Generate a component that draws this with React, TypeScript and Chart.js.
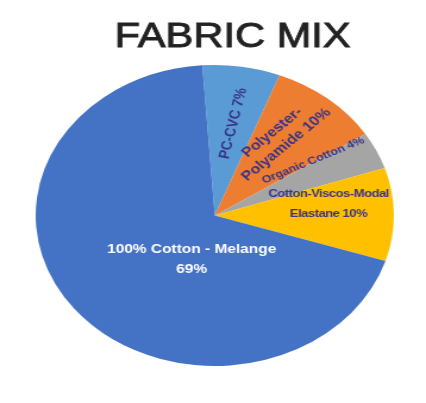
import { useEffect, useRef } from 'react';
import { Chart, registerables } from 'chart.js';

Chart.register(...registerables);

// ---- data ----
const TITLE = 'FABRIC MIX';
const categories = [
  'PC-CVC',
  'Polyester-Polyamide',
  'Organic Cotton',
  'Cotton-Viscos-Modal Elastane',
  '100% Cotton - Melange',
];
const shares = [7, 10, 4, 10, 69];
const categoryLines = [
  ['PC-CVC'],
  ['Polyester-', 'Polyamide'],
  ['Organic Cotton'],
  ['Cotton-Viscos-Modal', 'Elastane'],
  ['100% Cotton - Melange'],
];
const percentOnOwnLine = [false, false, false, false, true];

// ---- styles ----
const COLORS = ['#5B9BD5', '#ED7D31', '#A5A5A5', '#FFC000', '#4472C4'];
const DARK = '#3A3488';
const FONT = '"Liberation Sans", Arial, sans-serif';
const STRETCH = 426 / 358;

const LABEL_STYLE = [
  { shift: 1, r: 0.62, rot: -78, size: 13, lh: 15, color: DARK, ls: 0 },
  { shift: -4, r: 0.625, rot: -44, size: 13.5, lh: 17, color: DARK, ls: 0 },
  { shift: -8, r: 0.66, rot: -26, size: 10.5, lh: 12, color: DARK, ls: 0 },
  { shift: -6.7, r: 0.64, rot: 0, size: 11, lh: 20, color: DARK, ls: -0.45 },
  { shift: -28, r: 0.32, rot: 0, size: 13, lh: 20, color: '#FFFFFF', ls: 0 },
];

const labelLines = categoryLines.map((lines, i) => {
  const out = lines.slice();
  const pct = `${shares[i]}%`;
  if (percentOnOwnLine[i]) out.push(pct);
  else out[out.length - 1] = `${out[out.length - 1]} ${pct}`;
  return out;
});

const sliceLabels = {
  id: 'sliceLabels',
  afterDatasetsDraw(chart: any) {
    const ctx = chart.ctx as CanvasRenderingContext2D;
    const meta = chart.getDatasetMeta(0);
    meta.data.forEach((arc: any, i: number) => {
      const st = LABEL_STYLE[i];
      const mid = (arc.startAngle + arc.endAngle) / 2 + (st.shift * Math.PI) / 180;
      const rr = arc.outerRadius * st.r;
      const px = arc.x + Math.cos(mid) * rr;
      const py = arc.y + Math.sin(mid) * rr;
      const lines = labelLines[i];
      ctx.save();
      ctx.translate(px, py);
      ctx.rotate((st.rot * Math.PI) / 180);
      ctx.font = `bold ${st.size}px ${FONT}`;
      (ctx as any).letterSpacing = `${st.ls}px`;
      ctx.fillStyle = st.color;
      ctx.textAlign = 'center';
      ctx.textBaseline = 'middle';
      lines.forEach((ln, k) => {
        ctx.fillText(ln, 0, (k - (lines.length - 1) / 2) * st.lh);
      });
      (ctx as any).letterSpacing = '0px';
      ctx.restore();
    });
  },
  afterDraw(chart: any) {
    const ctx = chart.ctx as CanvasRenderingContext2D;
    const area = chart.chartArea;
    const x = (area.left + area.right) / 2 + 15;
    ctx.save();
    ctx.font = `35px ${FONT}`;
    ctx.fillStyle = '#222222';
    ctx.strokeStyle = '#222222';
    ctx.lineWidth = 0.9;
    ctx.textAlign = 'center';
    ctx.textBaseline = 'alphabetic';
    ctx.fillText(TITLE, x, 47);
    ctx.strokeText(TITLE, x, 47);
    ctx.restore();
  },
};

export default function App() {
  const ref = useRef<HTMLCanvasElement>(null);
  useEffect(() => {
    const chart = new Chart(ref.current as HTMLCanvasElement, {
      type: 'pie',
      data: {
        labels: categories,
        datasets: [
          {
            data: shares,
            backgroundColor: COLORS,
            borderWidth: 0,
          },
        ],
      },
      options: {
        animation: false,
        responsive: false,
        rotation: -4,
        layout: { padding: { top: 65, bottom: 37, left: 3, right: 0 } },
        plugins: {
          legend: { display: false },
          tooltip: { enabled: false },
          title: { display: false },
        },
      },
      plugins: [sliceLabels],
    });
    return () => chart.destroy();
  }, []);
  return (
    <div
      style={{
        position: 'absolute',
        left: 0,
        top: 0,
        width: 426,
        height: 403,
        overflow: 'hidden',
        background: '#FFFFFF',
      }}
    >
      <canvas
        ref={ref}
        width={358}
        height={403}
        style={{
          display: 'block',
          width: '358px',
          height: '403px',
          transform: `scaleX(${STRETCH})`,
          transformOrigin: '0 0',
        }}
      />
    </div>
  );
}
